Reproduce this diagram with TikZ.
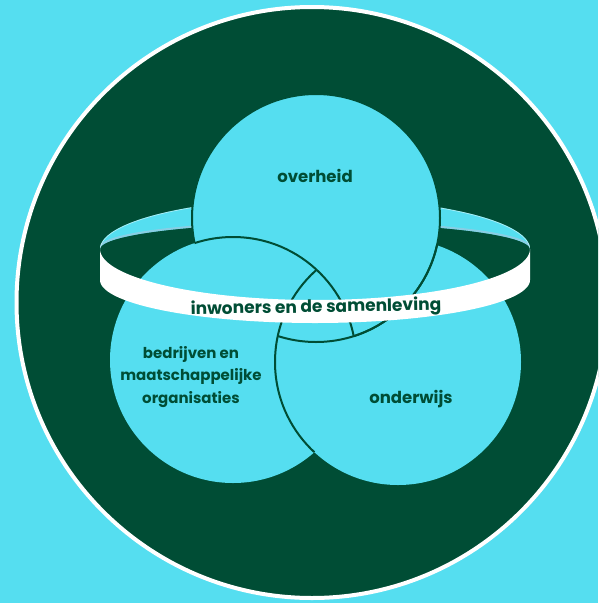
\documentclass[tikz,border=0pt]{standalone}
\usepackage{fontspec}
\setmainfont{Poppins}
\definecolor{bgcyan}{HTML}{55DEF0}
\definecolor{dkgreen}{HTML}{004D35}
\definecolor{stripedge}{HTML}{96CBE2}
\begin{document}
\begin{tikzpicture}[x=1pt,y=-1pt,
  outl/.style={draw=dkgreen,line width=2pt},
  lbl/.style={text=dkgreen,font=\bfseries\fontsize{15}{22.5}\selectfont,align=center,inner sep=0pt},
  biglbl/.style={lbl,font=\bfseries\fontsize{16.5}{20}\selectfont}]
\useasboundingbox (0,0) rectangle (598,603);
\fill[bgcyan] (0,0) rectangle (598,603);
\begin{scope}
\clip (0,0) rectangle (598,603);
% big dark disc
\fill[dkgreen] (312,302.5) circle (295.5);
\draw[white,line width=4pt] (312,302.5) circle (295.5);
% back strip of the ring (inner face)
\path[fill=bgcyan] plot[domain=180:360,samples=120] ({315+215*cos(\x)},{249+51*sin(\x)})
  -- plot[domain=360:180,samples=120] ({315+215*cos(\x)},{249+26*sin(\x)}) -- cycle;
\begin{scope}
\clip plot[domain=180:360,samples=120] ({315+215*cos(\x)},{249+51*sin(\x)})
  -- plot[domain=360:180,samples=120] ({315+215*cos(\x)},{249+26*sin(\x)}) -- cycle;
\draw[stripedge,line width=4pt,opacity=0.8] plot[domain=180:360,samples=120] ({315+215*cos(\x)},{249+26*sin(\x)});
\draw[white,line width=1.5pt,opacity=0.5] plot[domain=180:360,samples=120] ({315+215*cos(\x)},{249+51*sin(\x)});
\end{scope}
% three circles
\coordinate (ct) at (316,218);
\coordinate (cl) at (233,360);
\coordinate (cr) at (398,362);
\fill[bgcyan] (ct) circle (124);
\fill[bgcyan] (cl) circle (123);
\fill[bgcyan] (cr) circle (123);
% cyclic outlines
\begin{scope}
\clip (ct) circle (124);
\draw[outl] (cl) circle (123);
\end{scope}
\begin{scope}
\clip (cl) circle (123);
\draw[outl] (cr) circle (123);
\end{scope}
\begin{scope}
\clip (cr) circle (123);
\draw[outl] (ct) circle (124);
\end{scope}
\begin{scope}[even odd rule]
\clip (0,0) rectangle (598,603) (cl) circle (123);
\draw[outl] (ct) circle (124);
\end{scope}
% front band of the ring
\fill[white] plot[domain=0:180,samples=120] ({315+215*cos(\x)},{249+51*sin(\x)})
  -- plot[domain=180:0,samples=120] ({315+215*cos(\x)},{280+43*sin(\x)}) -- cycle;
\end{scope}
% labels
\node[biglbl] (ov) at (315,176) {overheid};
\node[lbl] (bm) at (191,377) {bedrijven en\\maatschappelijke\\organisaties};
\node[biglbl] (on) at (411,399) {onderwijs};
\node[lbl,font=\bfseries\fontsize{17}{20}\selectfont,rotate=1] (in) at (316,308) {inwoners en de samenleving};
\end{tikzpicture}
\end{document}
